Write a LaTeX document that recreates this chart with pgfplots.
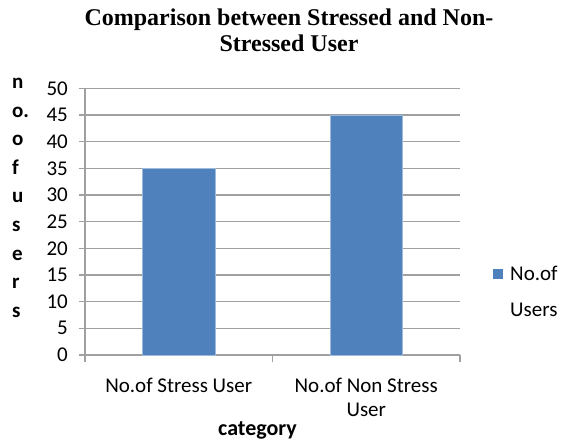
\documentclass[border=0pt]{standalone}
\usepackage{fontspec}
\setmainfont{Carlito}
\newfontfamily\titlefont{Liberation Serif}
\usepackage{pgfplots}
\pgfplotsset{compat=1.18}
\definecolor{barblue}{HTML}{4F81BD}
\definecolor{gridgray}{HTML}{A0A0A0}
\begin{document}
\begin{tikzpicture}
\useasboundingbox (-85pt,-86pt) rectangle (476pt,355pt);
\begin{axis}[
  at={(0pt,0pt)}, anchor=south west,
  scale only axis, width=375pt, height=266.7pt,
  xmin=-0.5, xmax=1.5, ymin=0, ymax=50,
  ytick={0,5,...,50},
  xtick={0,1},
  xticklabels={No.of Stress User, {No.of Non Stress\\User}},
  minor xtick={-0.5,0.5,1.5},
  axis x line*=bottom, axis y line*=left,
  axis line style={gridgray, line width=1.2pt, -},
  ymajorgrids, major grid style={gridgray, line width=1.2pt},
  tick align=outside,
  major x tick style={draw=none},
  minor x tick style={gridgray, line width=1.2pt},
  minor tick length=7pt,
  major tick length=6pt,
  ytick style={gridgray, line width=1.2pt},
  ybar, bar width=72.5pt,
  tick label style={font=\fontsize{21}{24}\selectfont, text=black},
  /pgf/number format/assume math mode=true,
  xticklabel style={align=center, anchor=north, inner sep=0pt, yshift=-17.1pt},
  yticklabel style={anchor=east, inner sep=0pt, xshift=-11pt},
  ylabel={n\\o.\\o\\f\\u\\s\\e\\r\\s},
  ylabel style={rotate=-90, align=left, font=\bfseries\fontsize{21}{28.6}\selectfont,
    anchor=north west, inner sep=0pt, at={(rel axis cs:-0.1947,1.0386)}},
  xlabel={category},
  xlabel style={font=\bfseries\fontsize{22}{26}\selectfont, anchor=base, inner sep=0pt,
    at={(rel axis cs:0.46,-0.3)}},
  title={Comparison between Stressed and Non-\\Stressed User},
  title style={font=\titlefont\bfseries\fontsize{24}{26}\selectfont, align=center,
    anchor=north, inner sep=0pt, at={(rel axis cs:0.544,1.2767)}},
  legend style={at={(rel axis cs:1.088,0.3813)}, anchor=north west, draw=none, fill=none,
    inner sep=0pt, font=\fontsize{21}{35.7}\selectfont, cells={anchor=base west, inner sep=0pt}},
  legend image code/.code={\fill[#1,draw=none] (0pt,1.3pt) rectangle (10pt,11.3pt);},
]
\addplot[fill=barblue, draw=barblue!55!white, line width=0.8pt] coordinates {(0,35) (1,45)};
\addlegendentry{\begin{tabular}[t]{@{\hspace{5pt}}l@{}}No.of\\Users\end{tabular}}
\end{axis}
\end{tikzpicture}
\end{document}
